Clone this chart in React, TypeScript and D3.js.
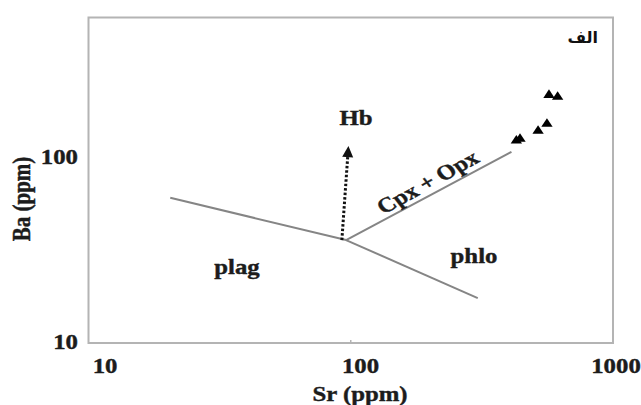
import React from "react";
import * as d3 from "d3";

// ---- data ----
const plagLine = [
  { sr: 20.5, ba: 61 },
  { sr: 96, ba: 36 },
];
const cpxOpxLine = [
  { sr: 96, ba: 36 },
  { sr: 410, ba: 108 },
];
const phloLine = [
  { sr: 96, ba: 36 },
  { sr: 305, ba: 17.5 },
];
const hbArrow = [
  { sr: 92.5, ba: 36 },
  { sr: 98, ba: 116 },
];
const samples = [
  { sr: 570, ba: 219 },
  { sr: 615, ba: 214 },
  { sr: 560, ba: 153 },
  { sr: 518, ba: 140 },
  { sr: 442, ba: 127 },
  { sr: 428, ba: 124 },
];
const xTicks = [10, 100, 1000];
const yTicks = [10, 100];
const xDomain = [10, 1000];
const yDomain = [10, 575];

const W = 641;
const H = 405;
const SX = 1.18; // horizontal stretch of the source picture

export default function App() {
  const x = d3.scaleLog().domain(xDomain).range([88.5, 613]);
  const y = d3.scaleLog().domain(yDomain).range([343, 17.5]);
  const xLab = d3.scaleLog().domain(xDomain).range([105, 616]);
  const line = d3
    .line<{ sr: number; ba: number }>()
    .x((d) => x(d.sr))
    .y((d) => y(d.ba));
  const tri = d3.symbol().type(d3.symbolTriangle).size(42)();

  const font = "'Liberation Serif', 'Times New Roman', serif";
  const T = (
    key: string,
    tx: number,
    ty: number,
    s: string,
    anchor: string = "middle",
    extra: string = ""
  ) => (
    <text
      key={key}
      transform={`translate(${tx},${ty}) scale(${SX},1) ${extra}`}
      textAnchor={anchor}
      fontFamily={font}
      fontWeight="bold"
      fontSize={21}
      fill="#1c1c1c"
      stroke="#1c1c1c"
      strokeWidth={0.4}
    >
      {s}
    </text>
  );

  const a0 = hbArrow[0];
  const a1 = hbArrow[1];
  const ax0 = x(a0.sr), ay0 = y(a0.ba), ax1 = x(a1.sr), ay1 = y(a1.ba);
  const ang = Math.atan2(ay1 - ay0, ax1 - ax0);
  const headLen = 11;
  const headW = 5.5;
  const bx = ax1 - headLen * Math.cos(ang);
  const by = ay1 - headLen * Math.sin(ang);
  const px = -Math.sin(ang), py = Math.cos(ang);
  const head = `M${ax1},${ay1}L${bx + headW * px},${by + headW * py}L${bx - headW * px},${by - headW * py}Z`;

  return (
    <svg
      width={W}
      height={H}
      style={{ position: "absolute", left: 0, top: 0, background: "#fff" }}
    >
      <rect x={0} y={0} width={W} height={H} fill="#fff" />
      {/* plot frame */}
      <rect
        x={x(10)}
        y={y(yDomain[1])}
        width={x(1000) - x(10)}
        height={y(10) - y(yDomain[1])}
        fill="none"
        stroke="#b4b4b4"
        strokeWidth={2}
      />
      <line x1={x(100)} x2={x(100)} y1={y(10)} y2={y(10) - 3} stroke="#b4b4b4" strokeWidth={1.5} />

      {/* tick labels */}
      {xTicks.map((t) => T(`xt${t}`, xLab(t), 373, String(t)))}
      {yTicks.map((t) => T(`yt${t}`, 78, y(t) + 6, String(t), "end"))}

      {/* axis titles */}
      {T("xt", 360, 401, "Sr (ppm)")}
      {T("yt", 30, 199, "Ba (ppm)", "middle", "rotate(-90)")}

      {/* trend lines */}
      {[plagLine, cpxOpxLine, phloLine].map((l, i) => (
        <path key={i} d={line(l) || ""} fill="none" stroke="#858585" strokeWidth={2} />
      ))}

      {/* Hb arrow */}
      <line
        x1={ax0}
        y1={ay0}
        x2={bx}
        y2={by}
        stroke="#111"
        strokeWidth={3}
        strokeDasharray="2.5,2"
      />
      <path d={head} fill="#111" />

      {/* samples */}
      {samples.map((d, i) => (
        <path
          key={i}
          d={tri || ""}
          transform={`translate(${x(d.sr)},${y(d.ba)}) scale(1.15,1)`}
          fill="#000"
        />
      ))}

      {/* labels */}
      {T("hb", 356, 125, "Hb")}
      {T("plag", 237, 274, "plag")}
      {T("phlo", 474, 263, "phlo")}
      {T("cpx", 432, 188, "Cpx + Opx", "middle", "rotate(-33)")}
      <text
        x={598}
        y={43}
        textAnchor="end"
        fontFamily="'DejaVu Sans', sans-serif"
        fontWeight="bold"
        fontSize={16}
        fill="#111"
      >
        الف
      </text>
    </svg>
  );
}
